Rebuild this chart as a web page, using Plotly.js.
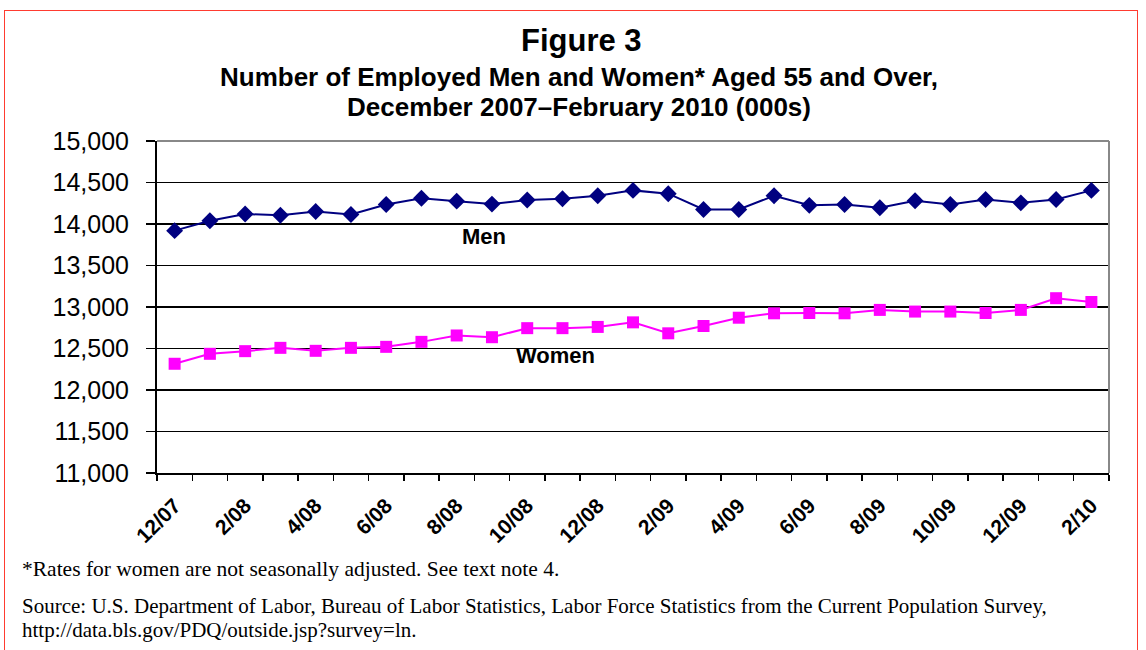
<!DOCTYPE html>
<html>
<head>
<meta charset="utf-8">
<script src="https://cdn.plot.ly/plotly-3.0.1.min.js"></script>
<style>
  html, body { margin: 0; padding: 0; background: #fff; }
  #wrap { position: relative; width: 1146px; height: 650px; }
  #chart { width: 1146px; height: 650px; }
  #frame { position: absolute; left: 4px; top: 10px; width: 1132px; height: 700px;
           border: 1px solid #ff3b30; pointer-events: none; }
</style>
</head>
<body>
<div id="wrap">
  <div id="chart"></div>
  <div id="frame"></div>
</div>
<script>
// Months, December 2007 - February 2010
const months = ["12/07","1/08","2/08","3/08","4/08","5/08","6/08","7/08","8/08","9/08","10/08","11/08",
                "12/08","1/09","2/09","3/09","4/09","5/09","6/09","7/09","8/09","9/09","10/09","11/09",
                "12/09","1/10","2/10"];
// Employed, aged 55 and over (000s)
const men   = [13920, 14040, 14120, 14105, 14150, 14115, 14235, 14310, 14275, 14240, 14290, 14305,
               14340, 14405, 14365, 14175, 14175, 14340, 14225, 14235, 14195, 14280, 14235, 14295,
               14255, 14295, 14405];
const women = [12316, 12436, 12468, 12508, 12472, 12508, 12520, 12580, 12657, 12636, 12745, 12745,
               12760, 12815, 12683, 12771, 12871, 12924, 12928, 12924, 12965, 12945, 12945, 12928,
               12965, 13106, 13060];
// Labelled months (every other month)
const tickLabels = ["12/07","2/08","4/08","6/08","8/08","10/08","12/08","2/09","4/09","6/09","8/09","10/09","12/09","2/10"];

const xIdx = months.map((m, i) => i);
const tickIdx = tickLabels.map(l => months.indexOf(l));

const FONT = "Arial, 'Liberation Sans', sans-serif";
const SERIF = "'Times New Roman', 'Liberation Serif', serif";

const traces = [
  { x: xIdx, y: men, type: "scatter", mode: "lines+markers", name: "Men",
    line: { color: "#000080", width: 2 },
    marker: { symbol: "diamond", size: 13, color: "#000080" } },
  { x: xIdx, y: women, type: "scatter", mode: "lines+markers", name: "Women",
    line: { color: "#FF00FF", width: 2 },
    marker: { symbol: "square", size: 12, color: "#FF00FF" } }
];

const layout = {
  width: 1146, height: 650,
  margin: { l: 157, r: 37, t: 141, b: 177 },
  paper_bgcolor: "#ffffff", plot_bgcolor: "#ffffff",
  showlegend: false,
  font: { family: FONT, color: "#000" },
  xaxis: {
    type: "linear", range: [-0.5, 26.5], fixedrange: true,
    tickmode: "array", tickvals: tickIdx, ticktext: tickLabels,
    tickangle: -45, ticks: "", showgrid: false, zeroline: false,
    ticklabelstandoff: 10,
    tickfont: { family: FONT, size: 21, weight: "bold", color: "#000" },
    showline: true, linecolor: "#000", linewidth: 2,
    minor: { tickmode: "linear", tick0: -0.5, dtick: 1, ticks: "outside", ticklen: 6,
             tickwidth: 1.5, tickcolor: "#000", showgrid: false }
  },
  yaxis: {
    range: [11000, 15000], dtick: 500, tick0: 11000, fixedrange: true,
    tickformat: ",d",
    tickfont: { family: FONT, size: 25, color: "#000" },
    ticks: "outside", ticklen: 9, tickwidth: 1.5, tickcolor: "#000",
    ticklabelstandoff: 12,
    showgrid: true, gridcolor: "#000", gridwidth: 1.5,
    showline: true, linecolor: "#000", linewidth: 2, zeroline: false
  },
  shapes: [
    { type: "line", xref: "paper", yref: "paper", x0: 0, x1: 1, y0: 1, y1: 1,
      line: { color: "#888888", width: 2 }, layer: "above" },
    { type: "line", xref: "paper", yref: "paper", x0: 1, x1: 1, y0: 0, y1: 1,
      line: { color: "#888888", width: 2 }, layer: "above" }
  ],
  annotations: [
    { text: "Figure 3", xref: "paper", yref: "paper", x: 0.4454, y: (473 - 40) / 332,
      xanchor: "center", yanchor: "middle", showarrow: false,
      font: { family: FONT, size: 31, weight: "bold", color: "#000" } },
    { text: "Number of Employed Men and Women* Aged 55 and Over,", xref: "paper", yref: "paper",
      x: 0.4428, y: (473 - 77) / 332, xanchor: "center", yanchor: "middle", showarrow: false,
      font: { family: FONT, size: 26, weight: "bold", color: "#000" } },
    { text: "December 2007\u2013February 2010 (000s)", xref: "paper", yref: "paper",
      x: 0.4438, y: (473 - 107) / 332, xanchor: "center", yanchor: "middle", showarrow: false,
      font: { family: FONT, size: 26, weight: "bold", color: "#000" } },
    { text: "Men", xref: "x", yref: "y", x: 8.77, y: 13855, xanchor: "center", yanchor: "middle",
      showarrow: false, font: { family: FONT, size: 22, weight: "bold", color: "#000" } },
    { text: "Women", xref: "x", yref: "y", x: 10.8, y: 12410, xanchor: "center", yanchor: "middle",
      showarrow: false, font: { family: FONT, size: 22, weight: "bold", color: "#000" } },
    { text: "*Rates for women are not seasonally adjusted. See text note 4.", xref: "paper", yref: "paper",
      x: (20 - 157) / 952, y: (473 - 569) / 332, xanchor: "left", yanchor: "middle", showarrow: false,
      font: { family: SERIF, size: 21.5, color: "#000" } },
    { text: "Source: U.S. Department of Labor, Bureau of Labor Statistics, Labor Force Statistics from the Current Population Survey,",
      xref: "paper", yref: "paper",
      x: (20 - 157) / 952, y: (473 - 606) / 332, xanchor: "left", yanchor: "middle", showarrow: false,
      font: { family: SERIF, size: 21, color: "#000" } },
    { text: "http://data.bls.gov/PDQ/outside.jsp?survey=ln.", xref: "paper", yref: "paper",
      x: (20 - 157) / 952, y: (473 - 630) / 332, xanchor: "left", yanchor: "middle", showarrow: false,
      font: { family: SERIF, size: 21, color: "#000" } }
  ]
};

Plotly.newPlot("chart", traces, layout, { displayModeBar: false, staticPlot: true });
</script>
</body>
</html>
